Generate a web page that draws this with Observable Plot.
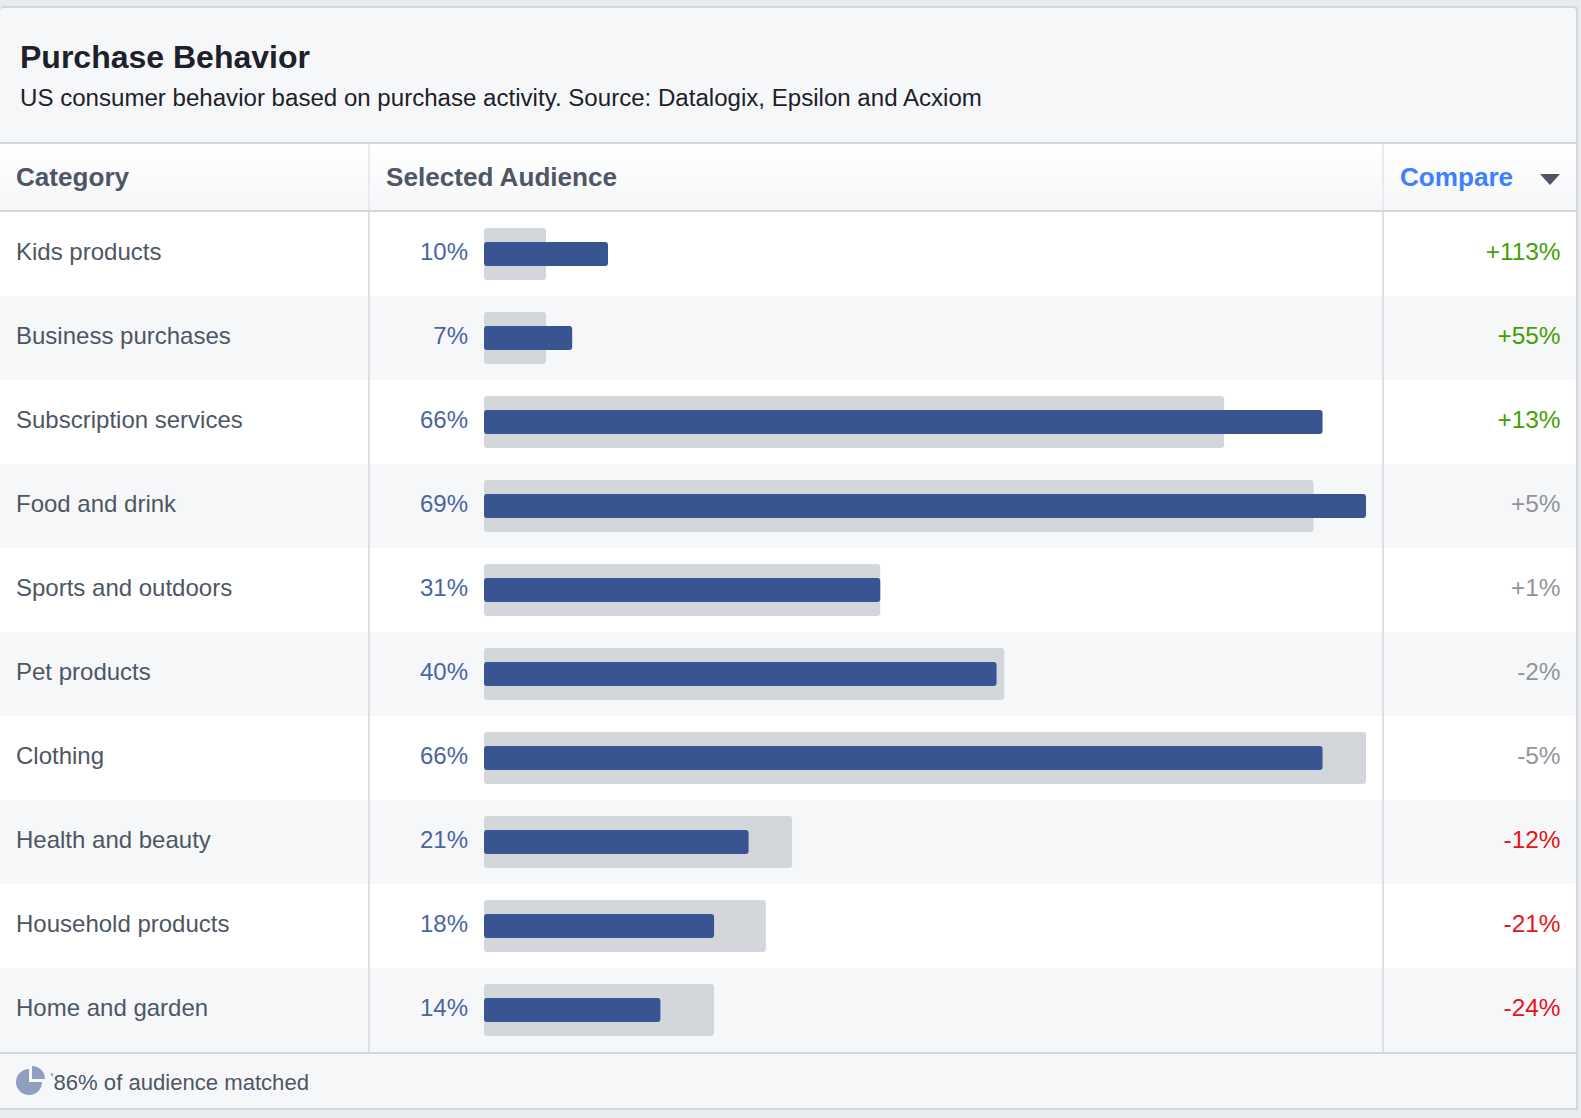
<!DOCTYPE html>
<html><head><meta charset="utf-8">
<script src="https://cdn.jsdelivr.net/npm/d3@7"></script>
<script src="https://cdn.jsdelivr.net/npm/@observablehq/plot@0.6"></script>
<style>
html,body{margin:0;padding:0;background:#e9ebee;width:1581px;height:1118px;overflow:hidden}
body{font-family:"Liberation Sans",Arial,sans-serif;position:relative}
#card{position:absolute;left:0;top:6px;width:1576px;background:#f6f7f9;border-top:2px solid #d3d6db;border-right:2px solid #d3d6db;border-top-left-radius:4px;border-top-right-radius:4px}
#head{height:134px;position:relative}
#title{position:absolute;left:20px;top:31px;font-size:32px;font-weight:bold;color:#1d2129;line-height:36px;white-space:nowrap}
#sub{position:absolute;left:20px;top:75px;font-size:24.08px;color:#1d2129;line-height:30px;white-space:nowrap}
#thead{height:66px;position:relative;border-top:2px solid #d3d6db;border-bottom:2px solid #d3d6db;background:linear-gradient(#ffffff,#f6f7f9);font-weight:bold;font-size:26.1px;color:#4e5665}
#thead span{position:absolute;top:18px;line-height:30px;white-space:nowrap}
#arrow{position:absolute;left:1540px;top:30px;width:0;height:0;border-left:10px solid transparent;border-right:10px solid transparent;border-top:11px solid #4e5665}
#rows{position:relative;height:840px;overflow:hidden;width:1576px}
#rows svg{display:block;position:absolute;left:0;top:0;max-width:none;background:transparent}
.v{position:absolute;top:0;bottom:0;width:2px;background:#dddfe2}
.vh{position:absolute;top:0;bottom:0;width:2px;background:#e9ebee}
#foot{height:54px;position:relative;border-top:2px solid #d3d6db;border-bottom:2px solid #d3d6db;font-size:22.1px;color:#4e5665}
#foot span{position:absolute;left:53.5px;top:15px;line-height:28px;white-space:nowrap}
#pie{position:absolute;left:17px;top:12px;overflow:visible}
</style></head><body>
<div id="card">
  <div id="head">
    <div id="title">Purchase Behavior</div>
    <div id="sub">US consumer behavior based on purchase activity. Source: Datalogix, Epsilon and Acxiom</div>
  </div>
  <div id="thead">
    <span style="left:16px">Category</span>
    <span style="left:386px">Selected Audience</span>
    <span style="left:1400px;color:#4080ff">Compare</span>
    <div id="arrow"></div>
    <div class="vh" style="left:368px"></div>
    <div class="vh" style="left:1382px"></div>
  </div>
  <div id="rows">
    <div class="v" id="v1" style="left:368px;z-index:2"></div>
    <div class="v" id="v2" style="left:1382px;z-index:2"></div>
  </div>
  <div id="foot">
    <svg id="pie" width="30" height="30" viewBox="0 0 30 30">
      <path d="M12 3 A13 13 0 1 0 25 16 L12 16 Z" fill="#8f9fbf"/>
      <path d="M15 0 A13 13 0 0 1 28 13 L15 13 Z" fill="#8f9fbf"/>
      <path d="M33 8 L36 7 L36 11 Z" fill="#8f9fbf"/>
    </svg>
    <span>86% of audience matched</span>
  </div>
</div>
<script>
const categories = ["Kids products","Business purchases","Subscription services","Food and drink","Sports and outdoors","Pet products","Clothing","Health and beauty","Household products","Home and garden"];
const selected = [10,7,66,69,31,40,66,21,18,14];
const selectedBar = [9.7,6.9,65.6,69,31,40.1,65.6,20.7,18,13.8];
const baseline = [4.85,4.85,57.9,64.9,31,40.7,69,24.1,22.05,18];
const compare = [113,55,13,5,1,-2,-5,-12,-21,-24];

const rows = categories.map((c,i)=>({category:c,selected:selected[i],bar:selectedBar[i],base:baseline[i],compare:compare[i],i}));
const cmpColor = v => v>=10 ? "#42a100" : v<=-10 ? "#e5131a" : "#90949c";
const cmpLabel = v => (v>0?"+":"")+v+"%";

const chart = Plot.plot({
  width:1581, height:840,
  marginTop:0, marginBottom:0, marginLeft:0, marginRight:0,
  style:{background:"transparent",fontFamily:"'Liberation Sans',Arial,sans-serif",overflow:"visible"},
  x:{domain:[0,69],range:[484,1366],axis:null},
  y:{domain:categories,range:[0,840],padding:0,axis:null},
  marks:[
    Plot.cell(rows,{y:"category",fill:d=>d.i%2?"#f6f7f9":"#ffffff"}),
    Plot.barX(rows,{y:"category",x:"base",fill:"#d3d6db",insetTop:16,insetBottom:16,rx:3}),
    Plot.barX(rows,{y:"category",x:"bar",fill:"#385591",insetTop:30,insetBottom:30,rx:3}),
    Plot.text(rows,{y:"category",text:"category",frameAnchor:"left",dx:15.5,dy:-2,fontSize:24,fill:"#4e5665"}),
    Plot.text(rows,{y:"category",x:()=>0,text:d=>d.selected+"%",textAnchor:"end",dx:-16.5,dy:-2,fontSize:24,fill:"#4a66a0"}),
    Plot.text(rows,{y:"category",text:d=>cmpLabel(d.compare),frameAnchor:"right",dx:-21,dy:-2,fontSize:24.4,fill:d=>cmpColor(d.compare)})
  ]
});
document.getElementById("rows").prepend(chart);
</script>
</body></html>
